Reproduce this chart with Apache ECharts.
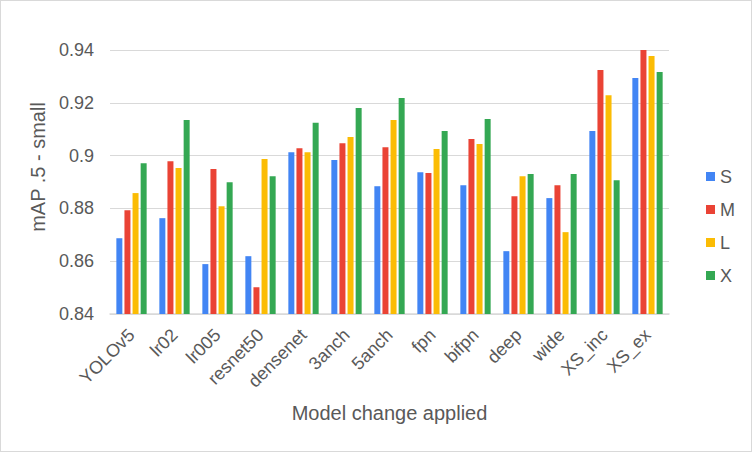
<!DOCTYPE html>
<html>
<head>
<meta charset="utf-8">
<script src="https://cdn.jsdelivr.net/npm/echarts@6/dist/echarts.min.js"></script>
<style>
  html, body { margin: 0; padding: 0; background: #fff; }
  #chart { width: 750px; height: 450px; border: 1px solid #d9d9d9; }
</style>
</head>
<body>
<div id="chart"></div>
<script>
const categories = ["YOLOv5", "lr02", "lr005", "resnet50", "densenet", "3anch", "5anch", "fpn", "bifpn", "deep", "wide", "XS_inc", "XS_ex"];
const seriesS = [0.8687, 0.8763, 0.8589, 0.8619, 0.9013, 0.8983, 0.8884, 0.8937, 0.8888, 0.8638, 0.8839, 0.9093, 0.9294];
const seriesM = [0.8793, 0.8979, 0.8949, 0.8501, 0.9028, 0.9047, 0.9032, 0.8934, 0.9063, 0.8846, 0.8888, 0.9324, 0.9400];
const seriesL = [0.8858, 0.8953, 0.8808, 0.8987, 0.9013, 0.9070, 0.9135, 0.9025, 0.9044, 0.8922, 0.8710, 0.9229, 0.9377];
const seriesX = [0.8971, 0.9135, 0.8899, 0.8922, 0.9124, 0.9180, 0.9218, 0.9093, 0.9139, 0.8930, 0.8930, 0.8907, 0.9317];
const yTicks = [0.84, 0.86, 0.88, 0.9, 0.92, 0.94];

const colors = { S: "#4285F4", M: "#EA4335", L: "#FBBC04", X: "#34A853" };
const font = "Liberation Sans, Arial, sans-serif";

const chart = echarts.init(document.getElementById("chart"), null, { renderer: "svg" });

const mkSeries = (name, data) => ({
  name: name,
  type: "bar",
  data: data,
  barWidth: 6,
  barGap: "35%",
  itemStyle: { color: colors[name] }
});

chart.setOption({
  animation: false,
  textStyle: { fontFamily: font },
  grid: { left: 109, right: 82, top: 49, bottom: 137, containLabel: false },
  legend: {
    orient: "vertical",
    left: 700,
    top: 160,
    itemWidth: 9,
    itemHeight: 9,
    itemGap: 12,
    icon: "rect",
    textStyle: { fontSize: 18, color: "#595959", fontFamily: font, lineHeight: 21 },
    data: ["S", "M", "L", "X"]
  },
  xAxis: {
    type: "category",
    data: categories,
    name: "Model change applied",
    nameLocation: "middle",
    nameGap: 89,
    nameTextStyle: { fontSize: 20, color: "#595959", fontFamily: font },
    axisLine: { lineStyle: { color: "#d9d9d9", width: 1.5 } },
    axisTick: { show: false },
    axisLabel: { rotate: 45, fontSize: 18, color: "#595959", margin: 18, interval: 0, fontFamily: font }
  },
  yAxis: {
    type: "value",
    min: yTicks[0],
    max: yTicks[yTicks.length - 1],
    interval: 0.02,
    name: "mAP .5 - small",
    nameLocation: "middle",
    nameGap: 62,
    nameTextStyle: { fontSize: 20, color: "#595959", fontFamily: font, padding: [0, 0, 0, 30] },
    axisLine: { show: false },
    axisTick: { show: false },
    axisLabel: {
      fontSize: 18,
      color: "#595959",
      margin: 16,
      fontFamily: font,
      formatter: (v) => String(parseFloat(v.toFixed(2)))
    },
    splitLine: { lineStyle: { color: "#d9d9d9", width: 1.2 } }
  },
  series: [
    mkSeries("S", seriesS),
    mkSeries("M", seriesM),
    mkSeries("L", seriesL),
    mkSeries("X", seriesX)
  ]
});
</script>
</body>
</html>
